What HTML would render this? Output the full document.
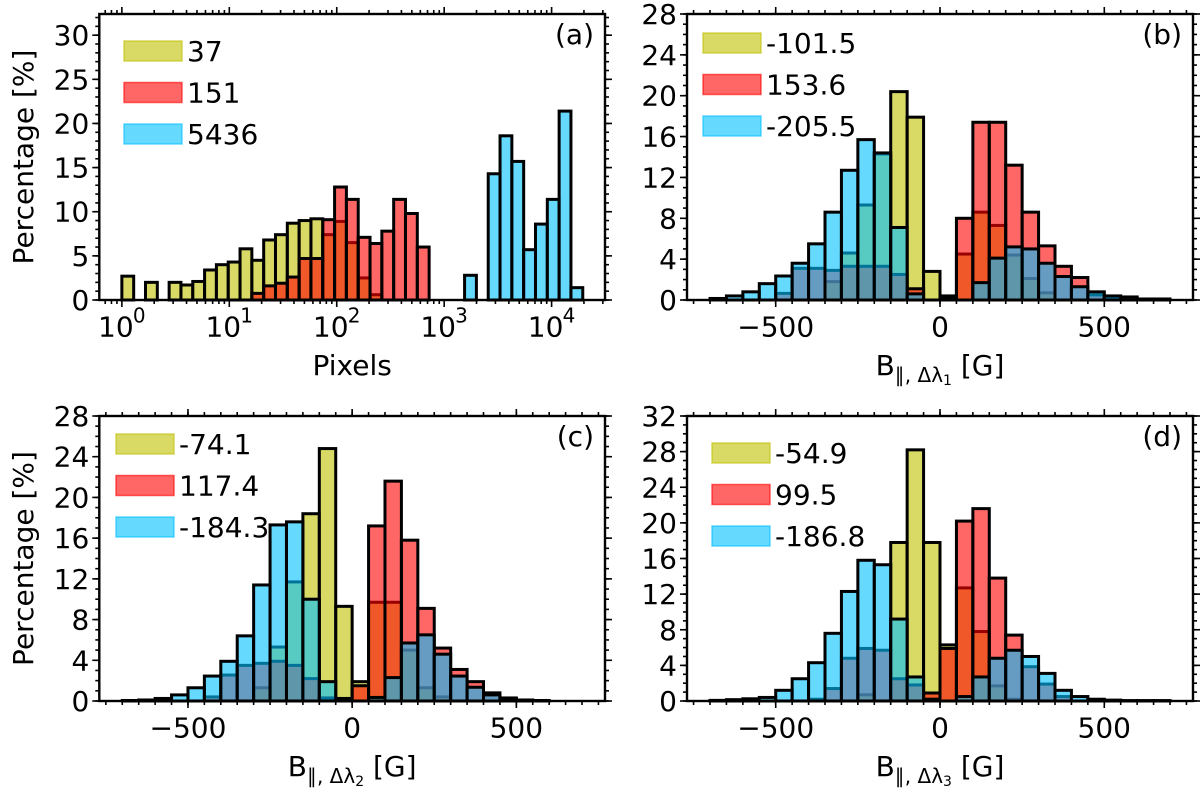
<!DOCTYPE html>
<html><head><meta charset="utf-8"><style>
html,body{margin:0;padding:0;background:#fff;}
svg{display:block;font-family:"DejaVu Sans","Liberation Sans",sans-serif;}
</style></head>
<body>
<svg id="fig" width="1200" height="793" viewBox="0 0 1200 793" xmlns="http://www.w3.org/2000/svg"></svg>
<script>
// ---- data ----
const aBinLogStart = 0;
const aBinLogWidth = 0.11;
const aYellow = [2.7,0,2.0,0,2.0,1.7,2.1,3.4,4.0,4.3,5.8,4.5,6.8,7.4,8.7,9.0,9.2,7.4,8.9,6.5,2.5,0.6,0,0,0,0,0,0,0,0,0,0,0,0,0,0,0,0,0];
const aRed = [0,0,0,0,0,0,0,0,0,0,0,0.75,1.6,1.9,2.6,4.7,4.7,9.1,12.8,11.4,7.1,6.4,7.8,11.4,9.8,6.0,0,0,0,0,0,0,0,0,0,0,0,0,0];
const aBlue = [0,0,0,0,0,0,0,0,0,0,0,0,0,0,0,0,0,0,0,0,0,0,0,0,0,0,0,0,0,2.8,0,14.3,18.6,15.7,5.7,8.6,11.4,21.4,1.4];
const aLegend = ["37","151","5436"];

const linBinStart = -700;
const linBinWidth = 50;
const bYellow = [0,0,0,0,0,0,0,1.8,4.6,9.3,14.3,20.4,17.9,2.8,0.3,4.5,8.6,7.3,4.4,2.1,0.7,0,0,0,0,0,0,0];
const bRed = [0,0,0,0,0.65,3.1,3.1,2.9,3.3,3.3,3.3,2.5,1.1,0,0.4,8.0,17.4,17.4,13.2,8.6,5.3,3.3,2.2,0.5,0.3,0.2,0,0];
const bBlue = [0.15,0.4,0.8,1.6,2.35,3.6,5.5,8.6,12.7,15.7,14.4,7.1,0.6,0,0.2,0,1.7,4.1,5.2,5.0,3.6,2.3,1.3,0.8,0.4,0.3,0.1,0.1];
const bLegend = ["-101.5","153.6","-205.5"];

const cYellow = [0,0,0,0,0,0,0,0,1.3,5.3,11.7,18.4,24.8,9.3,1.9,9.7,9.7,5.0,1.3,0.4,0,0,0,0,0,0,0,0];
const cRed = [0,0,0,0,0,0.4,2.55,3.5,3.7,3.9,3.5,2.2,0.3,0.25,1.5,17.2,21.6,15.8,9.1,5.2,3.1,1.9,0.8,0.3,0.1,0,0,0];
const cBlue = [0.05,0.1,0.25,0.6,1.3,2.45,3.9,6.4,11.4,17.3,17.6,10.0,1.9,0,0,0.35,2.3,5.7,6.5,4.6,2.45,1.35,0.6,0.2,0.05,0.05,0,0];
const cLegend = ["-74.1","117.4","-184.3"];

const dYellow = [0,0,0,0,0,0,0,0,0,0.7,0,17.8,28.2,17.8,6.3,12.7,7.8,1.7,0.2,0,0,0,0,0,0,0,0,0];
const dRed = [0,0,0,0,0,0,0.2,1.4,4.8,5.9,5.7,2.5,1.8,0.9,5.9,20.2,21.6,13.8,7.4,3.85,1.9,0.5,0,0,0,0,0,0];
const dBlue = [0.07,0.15,0.25,0.4,1.2,2.5,4.3,7.6,12.3,15.8,15.3,9.2,2.7,0.2,0,0.5,2.7,4.8,5.7,5.0,3.1,1.2,0.5,0.2,0.1,0.05,0.05,0.05];
const dLegend = ["-54.9","99.5","-186.8"];

const linTicks = [-500,0,500];
const yTicksA = [0,5,10,15,20,25,30];
const yTicks28 = [0,4,8,12,16,20,24,28];
const yTicks32 = [0,4,8,12,16,20,24,28,32];
const logTicks = [0,1,2,3,4];

// ---- drawing ----
const NS = "http://www.w3.org/2000/svg";
const svg = document.getElementById('fig');
const COLORS = ["#bfbf00","#ff0000","#00bfff"];
const FS = 28;
function mk(tag, parent, attrs){
  const e = document.createElementNS(NS, tag);
  for (const k in attrs) e.setAttribute(k, attrs[k]);
  parent.appendChild(e);
  return e;
}

function panel(cfg){
  const g = mk('g', svg, {});
  
  
  const L=cfg.left, R=cfg.right, T=cfg.top, B=cfg.bottom;
  const sx = v => L + (v - cfg.xmin) / (cfg.xmax - cfg.xmin) * (R - L);
  const sy = v => B - v / cfg.ymax * (B - T);
  cfg.series.forEach((vals, si) => {
    const sg = mk('g', g, {});
    
    
    vals.forEach((v, i) => {
      if (v <= 0) return;
      const x0 = sx(cfg.binStart + i * cfg.binWidth), x1 = sx(cfg.binStart + (i + 1) * cfg.binWidth);
      const r = mk('rect', sg, {x:x0, y:sy(v), width:x1-x0, height:B-sy(v), fill:COLORS[si], 'fill-opacity':0.6, stroke:'#000', 'stroke-width':3});
      
      
    });
  });
  const fr = mk('rect', g, {x:L, y:T, width:R-L, height:B-T, fill:'none', stroke:'#000', 'stroke-width':2.4});
  
  
  const tg = mk('g', g, {stroke:'#000', 'stroke-width':1.6});
  
  
  function xt(x, len){ mk('line', tg, {x1:x, x2:x, y1:B, y2:B+len}); mk('line', tg, {x1:x, x2:x, y1:T, y2:T-len}); }
  function yt(y, len){ mk('line', tg, {x1:L, x2:L-len, y1:y, y2:y}); mk('line', tg, {x1:R, x2:R+len, y1:y, y2:y}); }
  for (let v = 0; v <= cfg.ymax + 1e-9; v += 1) yt(sy(v), 4);
  cfg.yTicks.forEach(v => {
    yt(sy(v), 7);
    const t = mk('text', g, {x:L-10, y:sy(v)+10, 'font-size':FS, 'text-anchor':'end'});
    t.textContent = String(v);
    
    
  });
  const tby = B + 36.7;
  if (cfg.log){
    for (let d = -1; d <= 4; d++) for (let m = 2; m <= 9; m++){
      const lv = d + Math.log10(m);
      if (lv > cfg.xmin && lv < cfg.xmax) xt(sx(lv), 4);
    }
    cfg.xTicks.forEach(d => {
      xt(sx(d), 7);
      const t = mk('text', g, {x:sx(d)-6, y:tby, 'font-size':FS, 'text-anchor':'middle'});
      t.textContent = '10';
      
      
      const s = mk('text', g, {x:sx(d)+11, y:tby-14, 'font-size':20});
      s.textContent = String(d);
      
      
    });
  } else {
    for (let v = -750; v <= 750; v += 50) if (v > cfg.xmin && v < cfg.xmax) xt(sx(v), 4);
    cfg.xTicks.forEach(v => {
      xt(sx(v), 7);
      const t = mk('text', g, {x:sx(v), y:tby, 'font-size':FS, 'text-anchor':'middle'});
      t.textContent = v < 0 ? '\u2212' + Math.abs(v) : String(v);
      
      
    });
  }
  const xl = mk('text', g, {x:(L+R)/2, y:B+75, 'font-size':FS, 'text-anchor':'middle'});
  
  
  if (cfg.log) xl.textContent = 'Pixels';
  else {
    xl.appendChild(document.createTextNode('B'));
    const s1 = mk('tspan', xl, {'font-size':20, dy:7}); s1.textContent = '\u2225, \u0394\u03bb';
    const s2 = mk('tspan', xl, {'font-size':14, dy:3}); s2.textContent = cfg.sub;
    const s3 = mk('tspan', xl, {'font-size':FS, dy:-10}); s3.textContent = ' [G]';
  }
  if (cfg.ylabel){
    const yl = mk('text', g, {x:0, y:0, 'font-size':FS, 'text-anchor':'middle', transform:'translate(33,'+((T+B)/2)+') rotate(-90)'});
    yl.textContent = 'Percentage [%]';
    
    
  }
  const pl = mk('text', g, {x:R-11, y:T+30, 'font-size':FS, 'text-anchor':'end'});
  pl.textContent = '(' + cfg.id + ')';
  
  
  const lg = mk('g', g, {});
  
  
  cfg.legend.forEach((txt, i) => {
    const cy = cfg.legY + i * 41.5;
    const e = mk('g', lg, {});
    
    
    mk('rect', e, {x:cfg.legX, y:cy-10, width:58, height:20, fill:COLORS[i], 'fill-opacity':0.6, stroke:COLORS[i], 'stroke-opacity':0.6, 'stroke-width':1.5});
    const t = mk('text', e, {x:cfg.legX+63, y:cy+10, 'font-size':FS});
    t.textContent = txt;
  });
}

panel({id:'a', left:99.3, right:605, top:14, bottom:300, xmin:-0.21, xmax:4.497, ymax:32.4, log:true,
  binStart:aBinLogStart, binWidth:aBinLogWidth, series:[aYellow,aRed,aBlue], yTicks:yTicksA, xTicks:logTicks,
  legend:aLegend, legX:124, legY:51, ylabel:true});
panel({id:'b', left:687, right:1193, top:14, bottom:300, xmin:-770, xmax:770, ymax:28, log:false, sub:'1',
  binStart:linBinStart, binWidth:linBinWidth, series:[bYellow,bRed,bBlue], yTicks:yTicks28, xTicks:linTicks,
  legend:bLegend, legX:703, legY:43, ylabel:false});
panel({id:'c', left:99.3, right:605, top:416, bottom:701, xmin:-770, xmax:770, ymax:28, log:false, sub:'2',
  binStart:linBinStart, binWidth:linBinWidth, series:[cYellow,cRed,cBlue], yTicks:yTicks28, xTicks:linTicks,
  legend:cLegend, legX:116, legY:444, ylabel:true});
panel({id:'d', left:687, right:1193, top:416, bottom:701, xmin:-770, xmax:770, ymax:32, log:false, sub:'3',
  binStart:linBinStart, binWidth:linBinWidth, series:[dYellow,dRed,dBlue], yTicks:yTicks32, xTicks:linTicks,
  legend:dLegend, legX:712, legY:453, ylabel:false});
</script>
</body></html>
